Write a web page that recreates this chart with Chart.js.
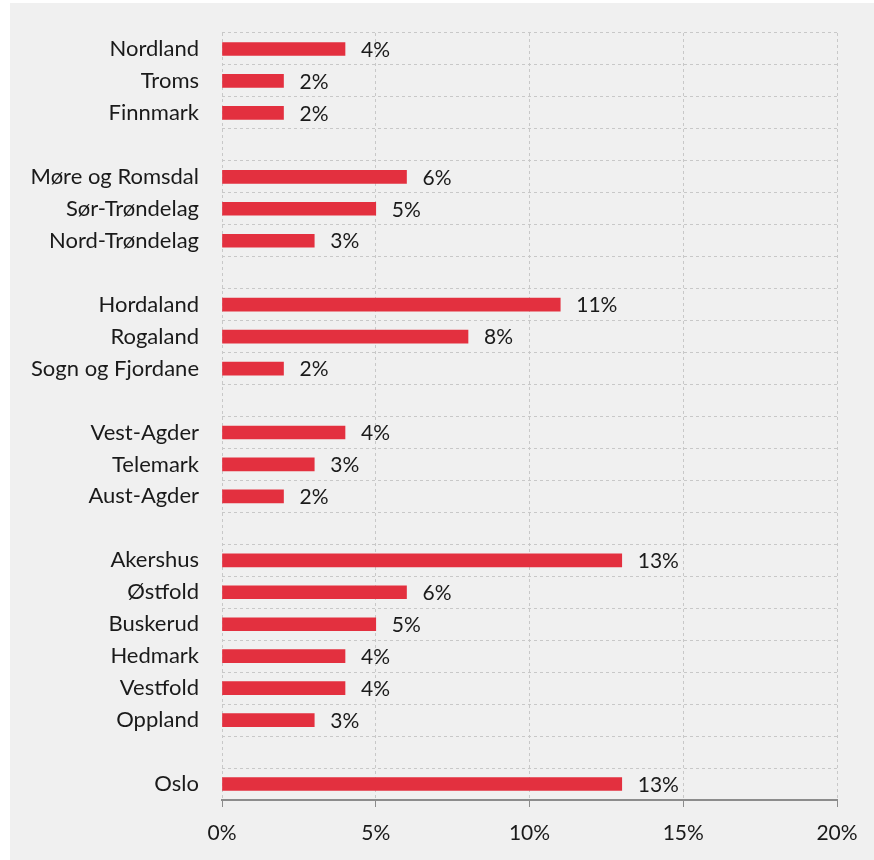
<!DOCTYPE html>
<html>
<head>
<meta charset="utf-8">
<script src="https://cdn.jsdelivr.net/npm/chart.js@4"></script>
<style>
  html, body { margin: 0; padding: 0; background: #ffffff; }
  #wrap { position: absolute; left: 10px; top: 3px; width: 864px; height: 857px; background: #f0f0f0; }
</style>
</head>
<body>
<div id="wrap"><canvas id="chart" width="864" height="857"></canvas></div>
<script>
// Regions, top to bottom (empty strings are the gaps between groups)
const regions = [
    'Nordland', 'Troms', 'Finnmark', '',
    'Møre og Romsdal', 'Sør-Trøndelag', 'Nord-Trøndelag', '',
    'Hordaland', 'Rogaland', 'Sogn og Fjordane', '',
    'Vest-Agder', 'Telemark', 'Aust-Agder', '',
    'Akershus', 'Østfold', 'Buskerud', 'Hedmark', 'Vestfold', 'Oppland', '',
    'Oslo'
];
const shares = [
    4, 2, 2, null,
    6, 5, 3, null,
    11, 8, 2, null,
    4, 3, 2, null,
    13, 6, 5, 4, 4, 3, null,
    13
];
const xTicks = [0, 5, 10, 15, 20];

const fontFamily = 'Lato, "Open Sans", sans-serif';

// Percent label to the right of each bar
const valueLabels = {
    id: 'valueLabels',
    afterDatasetsDraw(chart) {
        const ctx = chart.ctx;
        const meta = chart.getDatasetMeta(0);
        ctx.save();
        ctx.font = '21px ' + fontFamily;
        ctx.fillStyle = '#1a1a1a';
        ctx.textAlign = 'left';
        ctx.textBaseline = 'middle';
        meta.data.forEach((bar, i) => {
            const v = shares[i];
            if (v === null) return;
            ctx.fillText(v + '%', bar.x + 16, bar.y + 1);
        });
        ctx.restore();
    }
};

new Chart(document.getElementById('chart'), {
    type: 'bar',
    data: {
        labels: regions,
        datasets: [{
            data: shares,
            backgroundColor: '#e3303f',
            barThickness: 13
        }]
    },
    options: {
        indexAxis: 'y',
        responsive: false,
        animation: false,
        layout: { padding: { top: 30, right: 37, left: 0, bottom: 0 } },
        plugins: {
            legend: { display: false },
            tooltip: { enabled: false }
        },
        scales: {
            x: {
                min: 0,
                max: 20,
                afterFit(scale) { scale.height = 60; },
                afterBuildTicks(scale) { scale.ticks = xTicks.map(v => ({ value: v })); },
                grid: {
                    color: '#c8c8c8',
                    tickColor: '#8c8c8c',
                    tickLength: 7,
                    tickBorderDash: []
                },
                border: { display: true, color: '#8c8c8c', width: 2, dash: [3, 3] },
                ticks: {
                    padding: 14,
                    color: '#1a1a1a',
                    font: { family: fontFamily, size: 21 },
                    callback: v => v + '%'
                }
            },
            y: {
                afterFit(scale) {
                    scale.width = 212;
                    scale.paddingTop = 0;
                    scale.paddingBottom = 0;
                },
                grid: {
                    color: '#c8c8c8',
                    drawTicks: false
                },
                border: { display: false, dash: [3, 3] },
                ticks: {
                    padding: 23,
                    color: '#1a1a1a',
                    autoSkip: false,
                    font: { family: fontFamily, size: 22 }
                }
            }
        }
    },
    plugins: [valueLabels]
});
</script>
</body>
</html>
